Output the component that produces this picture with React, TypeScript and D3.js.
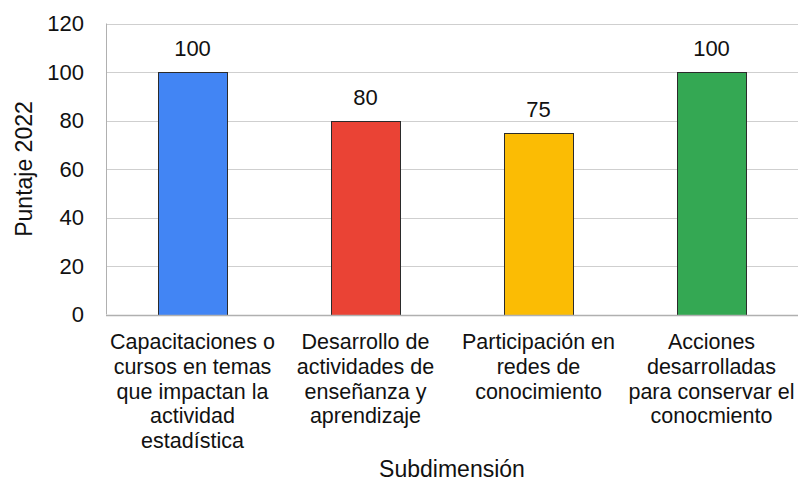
import React from "react";
import * as d3 from "d3";

const categories = [
  "Capacitaciones o\ncursos en temas\nque impactan la\nactividad\nestadística",
  "Desarrollo de\nactividades de\nenseñanza y\naprendizaje",
  "Participación en\nredes de\nconocimiento",
  "Acciones\ndesarrolladas\npara conservar el\nconocmiento",
];
const values = [100, 80, 75, 100];
const colors = ["#4285F4", "#EA4335", "#FBBC04", "#34A853"];
const yTicks = [0, 20, 40, 60, 80, 100, 120];

const W = 799;
const H = 484;
const margin = { left: 106, right: 1, top: 23.5, bottom: 169.5 };
const FONT = "'Liberation Sans', Arial, sans-serif";

export default function App() {
  const x = d3
    .scaleBand<string>()
    .domain(categories)
    .range([margin.left, W - margin.right])
    .paddingInner(0.6)
    .paddingOuter(0.3);
  const y = d3.scaleLinear().domain([0, 120]).range([H - margin.bottom, margin.top]);

  return (
    <svg
      width={W}
      height={H}
      style={{ position: "absolute", left: 0, top: 0, background: "#fff" }}
      fontFamily={FONT}
    >
      {yTicks.map((t) => (
        <g key={t}>
          {t > 0 && (
            <line
              x1={margin.left}
              x2={W - margin.right}
              y1={Math.round(y(t)) + 0.5}
              y2={Math.round(y(t)) + 0.5}
              stroke="#cfcfcf"
              strokeWidth={1}
            />
          )}
          <text
            x={84}
            y={y(t)}
            dy="0.36em"
            textAnchor="end"
            fontSize={22}
            fill="#111"
          >
            {t}
          </text>
        </g>
      ))}
      {categories.map((c, i) => {
        const bx = x(c)!;
        const by = y(values[i]);
        const cx = bx + x.bandwidth() / 2;
        return (
          <g key={c}>
            <rect
              x={Math.round(bx) + 0.5}
              y={Math.round(by) + 0.5}
              width={Math.round(x.bandwidth())}
              height={Math.round(y(0) - by)}
              fill={colors[i]}
              stroke="#2b2b2b"
              strokeWidth={1}
            />
            <text
              x={cx}
              y={by - 16}
              textAnchor="middle"
              fontSize={22}
              fill="#111"
            >
              {values[i]}
            </text>
            <text
              x={cx}
              y={y(0) + 34.5}
              textAnchor="middle"
              fontSize={21.5}
              fill="#111"
            >
              {c.split("\n").map((line, j) => (
                <tspan key={j} x={cx} dy={j === 0 ? 0 : 24.75}>
                  {line}
                </tspan>
              ))}
            </text>
          </g>
        );
      })}
      <line
        x1={margin.left + 0.5}
        x2={margin.left + 0.5}
        y1={margin.top}
        y2={y(0)}
        stroke="#b0b0b0"
        strokeWidth={1}
      />
      <line
        x1={margin.left}
        x2={W - margin.right}
        y1={Math.round(y(0)) + 0.5}
        y2={Math.round(y(0)) + 0.5}
        stroke="#b0b0b0"
        strokeWidth={1.5}
      />
      <text
        transform={`translate(32, ${(margin.top + y(0)) / 2}) rotate(-90)`}
        textAnchor="middle"
        fontSize={23}
        fill="#111"
      >
        Puntaje 2022
      </text>
      <text
        x={(margin.left + W - margin.right) / 2}
        y={477}
        textAnchor="middle"
        fontSize={23}
        fill="#111"
      >
        Subdimensión
      </text>
    </svg>
  );
}
